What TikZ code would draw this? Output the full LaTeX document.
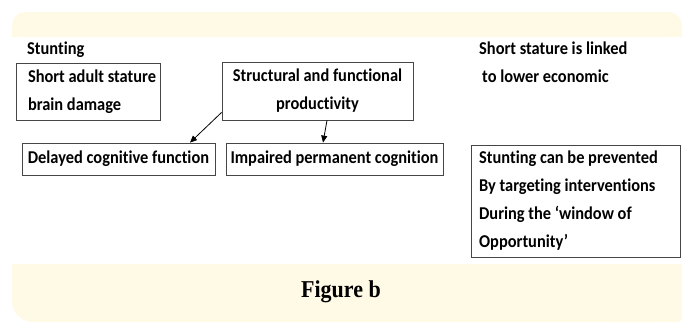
\documentclass[tikz,border=0pt]{standalone}
\usepackage{fontspec}
\setmainfont{Carlito}[Ligatures=NoCommon]
\newfontfamily\figfont{Liberation Serif}
\usetikzlibrary{arrows.meta,calc}
\definecolor{cream}{RGB}{255,250,230}
\definecolor{boxline}{RGB}{70,70,70}
\newcommand{\tl}[1]{\scalebox{1}[1.1]{#1}}
\begin{document}
\begin{tikzpicture}[x=1pt,y=-1pt,
  txt/.style={font=\fontsize{16.4}{28}\selectfont\bfseries, inner sep=0pt},
  boxnode/.style={txt, draw=boxline, line width=0.8pt},
  arr/.style={-{Triangle[length=7pt,width=6pt]}, line width=0.8pt}]
\useasboundingbox (0,0) rectangle (682,322);
% background bands
\fill[cream, rounded corners=13pt] (12,12) rectangle (682,37);
\fill[cream] (12,25) rectangle (682,37);
\fill[cream, rounded corners=21pt] (12,264) rectangle (682,322);
\fill[cream] (12,264) rectangle (682,300);
\fill[cream, rounded corners=4pt] (600,264) rectangle (682,322);
% texts and boxes
\node[txt, anchor=west] (stunt) at (27,50) {\tl{Stunting}};
\node[boxnode, align=left, minimum width=144pt, minimum height=57pt]
  (sas) at (88,91.5) {\hspace*{8pt}\tl{Short adult stature}\\\hspace*{8pt}\tl{brain damage}};
\node[boxnode, align=center, minimum width=191pt, minimum height=58pt]
  (sf) at (317.5,91) {\tl{Structural and functional}\\\tl{productivity}};
\node[boxnode, align=center, minimum width=193pt, minimum height=32pt]
  (dcf) at (118.5,159) {\tl{Delayed cognitive function}};
\node[boxnode, align=center, minimum width=217pt, minimum height=32pt]
  (ipc) at (334.5,159) {\tl{Impaired permanent cognition}};
\node[txt, align=left, anchor=west] (ssl) at (479,62.5)
  {\tl{Short stature is linked}\\\hspace*{3pt}\tl{to lower economic}};
\node[boxnode, align=left, minimum width=209pt, minimum height=112pt]
  (scp) at (575.5,201) {\tl{Stunting can be prevented}\hspace*{14pt}\\\tl{By targeting interventions}\\\tl{During the ‘window of}\\\tl{Opportunity’}};
\node[font=\figfont\fontsize{22}{24}\selectfont\bfseries, inner sep=0pt] (fig) at (341,292) {\tl{Figure b}};
% arrows
\draw[arr] ([yshift=8pt]sf.south west) -- ([xshift=71.5pt]dcf.north);
\draw[arr] ([xshift=9.5pt]sf.south) -- ([xshift=-11.5pt]ipc.north);
\end{tikzpicture}
\end{document}
